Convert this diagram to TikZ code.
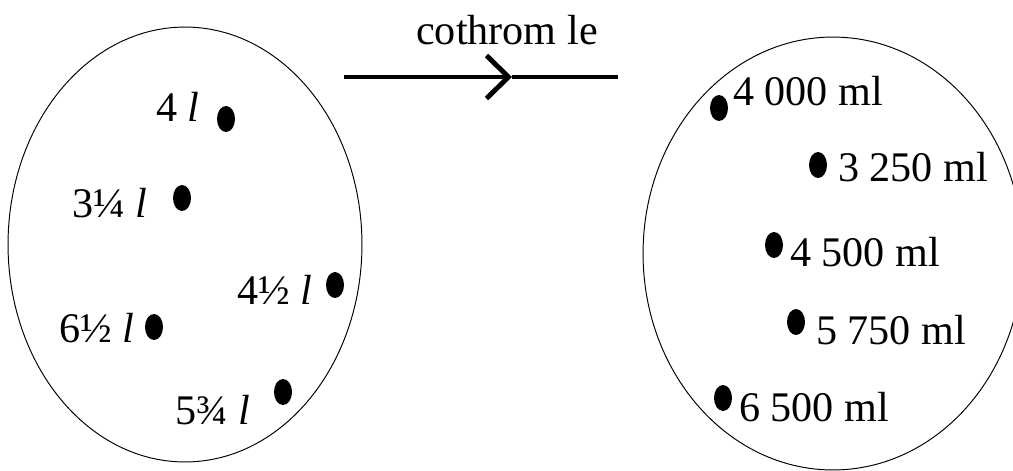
\documentclass[tikz,border=0pt]{standalone}
\usepackage{fontspec}
\setmainfont{Liberation Serif}
\usetikzlibrary{arrows.meta,positioning,shapes.geometric}
\tikzset{
  blob/.style={ellipse,draw=none,fill=black,inner sep=0pt,minimum width=0.36cm,minimum height=0.52cm},
  qty/.style={inner sep=0pt,font=\fontsize{24}{28}\selectfont},
  bag/.style={draw=black,line width=0.55pt},
  maparrow/.style={-{Straight Barb[length=0.44cm,width=0.86cm,line width=2.8pt]},line width=2.8pt},
  mapline/.style={line width=2.8pt}
}
\begin{document}
\begin{tikzpicture}[x=0.02cm,y=-0.02cm]
\useasboundingbox (0,0) rectangle (1013,470);

% the two sets
\draw[bag] (185,244.5) ellipse [x radius=3.54cm,y radius=4.35cm];
\draw[bag] (833,253.5) ellipse [x radius=3.8cm,y radius=4.33cm];

% mapping arrow
\coordinate (from) at (344,77);
\coordinate (mid) at (512,77);
\coordinate (to) at (618,77);
\draw[maparrow](from)--(mid);\draw[mapline](mid)--(to);
\node[qty] (maplabel) at (507,30) {cothrom le};

% left set, litres
\node[blob] (l1) at (226,119) {};
\node[blob] (l2) at (182,198) {};
\node[blob] (l3) at (335,285) {};
\node[blob] (l4) at (154,327) {};
\node[blob] (l5) at (283,392) {};
\node[qty] (tl1) at (178,107) {4 \textit{l}};
\node[qty] (tl2) at (110,203) {3¼ \textit{l}};
\node[qty] (tl3) at (275,290) {4½ \textit{l}};
\node[qty] (tl4) at (97,328) {6½ \textit{l}};
\node[qty] (tl5) at (213,410) {5¾ \textit{l}};

% right set, millilitres
\node[blob] (r1) at (719,108) {};
\node[blob] (r2) at (818,165) {};
\node[blob] (r3) at (774,245) {};
\node[blob] (r4) at (796,322) {};
\node[blob] (r5) at (723,398) {};
\node[qty] (tr1) at (808,91) {4 000 ml};
\node[qty] (tr2) at (913,167) {3 250 ml};
\node[qty] (tr3) at (865,252) {4 500 ml};
\node[qty] (tr4) at (891,330) {5 750 ml};
\node[qty] (tr5) at (814,407) {6 500 ml};
\end{tikzpicture}
\end{document}
